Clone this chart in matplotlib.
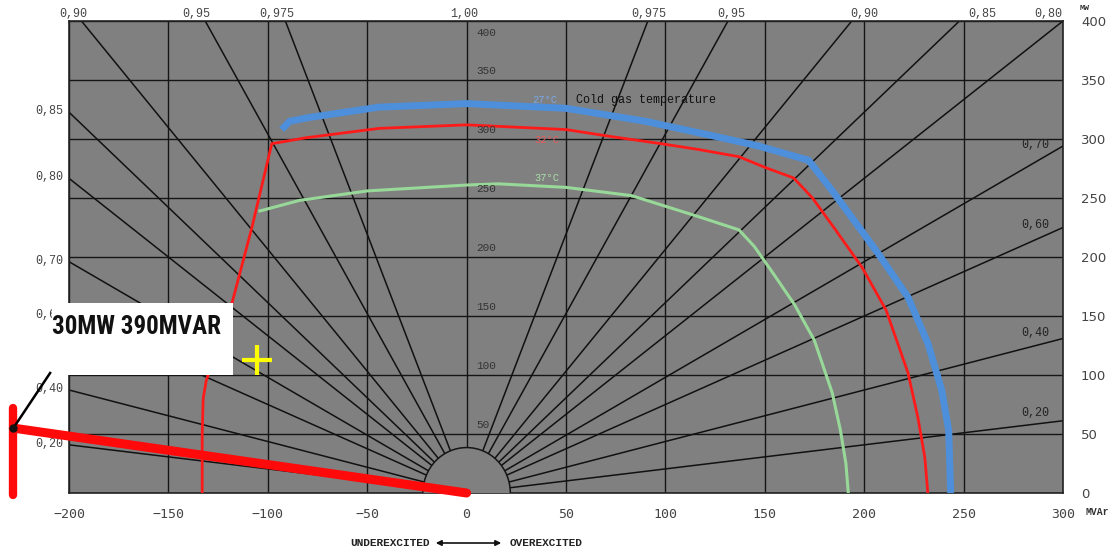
import numpy as np
import matplotlib
matplotlib.use("Agg")
import matplotlib.pyplot as plt
from matplotlib.patches import Ellipse, Rectangle

# ---------------------------------------------------------------
# Generator capability diagram: active power (MW) vs reactive power (MVAr)
# ---------------------------------------------------------------

# Axis ticks
mvar_ticks = [-200, -150, -100, -50, 0, 50, 100, 150, 200, 250, 300]
mw_ticks = [0, 50, 100, 150, 200, 250, 300, 350, 400]

# Power-factor rays drawn on both sides of the origin
pf_values = [0.20, 0.40, 0.60, 0.70, 0.80, 0.85, 0.90, 0.95, 0.975]

# Power-factor labels along the top edge
top_pf_labels = ["0,90", "0,95", "0,975", "1,00", "0,975", "0,95", "0,90", "0,85", "0,80"]
top_pf_label_q = [-197.7, -135.8, -95.6, -1.0, 91.5, 133.3, 200.2, 259.6, 292.8]

# Power-factor labels on the left edge (underexcited side) and inside the right edge
left_pf = [0.85, 0.80, 0.70, 0.60, 0.40, 0.20]
right_pf = [0.70, 0.60, 0.40, 0.20]

# Capability limits for three cold-gas temperatures
temp_labels = ["27°C", "32°C", "37°C"]

blue_q = [-93, -89, -80, -44, 0, 50, 90, 123, 147, 172, 184, 207, 222, 232, 239, 242.5, 243.5]
blue_p = [308, 315, 318, 327, 330, 326, 315, 303, 294, 282, 256, 203, 166, 127, 87, 53, 0]

red_q = [-133, -133, -132.5, -131, -118, -108, -98, -81, -44, 0, 50, 73, 98, 117, 137, 150,
         164.5, 174, 186, 199, 211, 222, 227, 230.5, 232]
red_p = [0, 50, 80, 95, 161, 225, 296, 301, 309, 312, 308, 302, 296, 291, 285, 276,
         267, 250, 222, 191, 155, 102, 64, 30, 0]

green_q = [-104, -84, -50, 0, 16, 50, 83, 117, 137, 144.7, 154.5, 165, 174.9, 183.9, 188, 190.8, 192]
green_p = [239, 248, 256, 261, 262, 259, 252, 234, 223, 209, 185.4, 159.5, 129.5, 85, 53.5, 25, 0]

# Marked operating point and the annotated load line
op_point_q, op_point_p = -105.6, 112.7
load_line_q = [0, -228]
load_line_p = [0, 55]
load_bar_p = [-2, 72]
leader_q = [-228, -209.5]
leader_p = [55, 101.7]
annotation_text = "30MW 390MVAR"

# ---------------------------------------------------------------
W, H = 1119, 553
fig = plt.figure(figsize=(W / 100, H / 100), dpi=100)
fig.patch.set_facecolor("white")
ax = fig.add_axes([69 / W, 60 / H, 994 / W, 472 / H])
ax.set_xlim(-200, 300)
ax.set_ylim(0, 400)
ax.set_facecolor("#808080")

ax.set_xticks(mvar_ticks)
ax.set_yticks(mw_ticks)
ax.yaxis.tick_right()
ax.grid(True, color="#151515", lw=1.0)
ax.tick_params(axis="both", length=0)
ax.tick_params(axis="x", pad=11, labelsize=9.5, labelcolor="#444444")
ax.tick_params(axis="y", pad=13, labelsize=9.5, labelcolor="#444444")
for lab in ax.get_xticklabels():
    lab.set_fontfamily("DejaVu Sans Mono")
for s in ax.spines.values():
    s.set_color("#222222")
    s.set_linewidth(1.2)

# Power-factor rays
for pf in pf_values:
    t = np.tan(np.arccos(pf))
    for side in (-1, 1):
        ax.plot([0, side * 2000 * t], [0, 2000], color="#111111", lw=1.1, zorder=2)

# Half disc at the origin
ax.add_patch(Ellipse((0, 0), 44, 77, facecolor="#808080", edgecolor="#151515",
                     lw=1.1, zorder=3))

# Capability curves
ax.plot(blue_q, blue_p, color="#4d8fdb", lw=5, zorder=4, solid_capstyle="butt")
ax.plot(red_q, red_p, color="#ff1a1a", lw=2.0, zorder=5)
ax.plot(green_q, green_p, color="#98d898", lw=2.2, zorder=4)

mono = "Liberation Mono"
ax.text(55, 333, "Cold gas temperature", family=mono, fontsize=8.5, color="#111111",
        va="center", ha="left", zorder=6)
for lab, q, p, c in zip(temp_labels, [33, 34, 34], [333, 299, 267],
                        ["#78a8e8", "#e85a5a", "#a8e0a8"]):
    ax.text(q, p, lab, family=mono, fontsize=7.5, color=c, va="center", ha="left", zorder=6)

# MW values along the zero-MVAr line
for p in mw_ticks[1:]:
    off = -12 if p == 400 else 9
    ax.annotate(str(p), (5, p), xytext=(0, off), textcoords="offset pixels",
                family=mono, fontsize=8, color="#333333", ha="left", va="center", zorder=6)

# Power-factor labels: top edge
for lab, q in zip(top_pf_labels, top_pf_label_q):
    ax.annotate(lab, (q, 400), xytext=(0, 7), textcoords="offset pixels",
                family=mono, fontsize=8.5, color="#444444", ha="center", va="center",
                annotation_clip=False)

# Power-factor labels: left edge
for pf in left_pf:
    t = np.tan(np.arccos(pf))
    p = 200 / t
    ax.annotate(f"{pf:.2f}".replace(".", ","), (-200, p), xytext=(-6, 1),
                textcoords="offset pixels", family=mono, fontsize=8.5, color="#444444",
                ha="right", va="center", annotation_clip=False, zorder=1)

# Power-factor labels: inside right edge
for pf in right_pf:
    t = np.tan(np.arccos(pf))
    q = 293
    ax.annotate(f"{pf:.2f}".replace(".", ","), (q, q / t), xytext=(0, 9),
                textcoords="offset pixels", family=mono, fontsize=8.5, color="#222222",
                ha="right", va="center", zorder=6)

# Axis unit labels
fig.text(1085 / W, 1 - 8 / H, "MW", family=mono, fontsize=6, weight="bold",
         color="#333333", ha="center", va="center")
fig.text(1086 / W, 1 - 512 / H, "MVAr", family=mono, fontsize=7, weight="bold",
         color="#333333", ha="left", va="center")

# Excitation direction
fig.text(430 / W, 1 - 543 / H, "UNDEREXCITED", family=mono, fontsize=8, weight="bold",
         color="#222222", ha="right", va="center")
fig.text(510 / W, 1 - 543 / H, "OVEREXCITED", family=mono, fontsize=8, weight="bold",
         color="#222222", ha="left", va="center")
ax.annotate("", xy=(504 / W, 1 - 543 / H), xytext=(433 / W, 1 - 543 / H),
            xycoords="figure fraction", textcoords="figure fraction",
            arrowprops=dict(arrowstyle="<|-|>", color="#111111", lw=1.2,
                            mutation_scale=8))

# Operating point marker
ax.plot(op_point_q, op_point_p, marker="+", ms=22, mew=3, color="#ffff00", zorder=7)

# Load line annotation
ax.plot(load_line_q, load_line_p, color="#ff0a0a", lw=6.5, zorder=8, clip_on=False,
        solid_capstyle="round")
ax.plot([load_line_q[1]] * 2, load_bar_p, color="#ff0a0a", lw=6, zorder=8, clip_on=False,
        solid_capstyle="round")
ax.plot(leader_q, leader_p, color="#000000", lw=1.8, zorder=9, clip_on=False)
ax.plot(load_line_q[1], load_line_p[1], "o", color="#111111", ms=5, zorder=9, clip_on=False)

# Annotation box
fig.patches.append(Rectangle((52 / W, (H - 375) / H), 181 / W, 72 / H,
                             transform=fig.transFigure, facecolor="white",
                             edgecolor="none", zorder=10))
fig.text(136 / W, 1 - 327 / H, annotation_text,
         family=["Roboto Condensed", "Liberation Sans Narrow", "DejaVu Sans"],
         fontsize=18, weight="bold", color="#111111", ha="center", va="center", zorder=11)

fig.savefig("out.png", dpi=100)
